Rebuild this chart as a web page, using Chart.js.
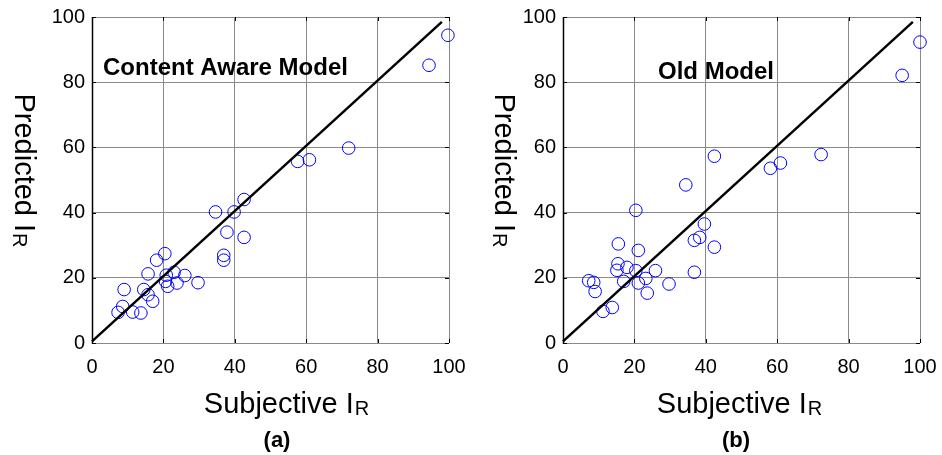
<!DOCTYPE html>
<html>
<head>
<meta charset="utf-8">
<script src="https://cdn.jsdelivr.net/npm/chart.js@4/dist/chart.umd.min.js"></script>
<style>
  html, body { margin:0; padding:0; background:#fff; }
  #wrap { position:relative; width:942px; height:455px; }
  canvas { position:absolute; top:0; }
</style>
</head>
<body>
<div id="wrap">
  <canvas id="ca" width="471" height="455" style="left:0"></canvas>
  <canvas id="cb" width="471" height="455" style="left:471px"></canvas>
</div>
<script>
// ---- data ----
const tickValues = [0, 20, 40, 60, 80, 100];

const subjectiveA = [99.7, 94.4, 71.9, 60.9, 57.6, 42.6, 34.6, 39.8, 37.8, 42.6,
                     36.9, 36.9, 20.4, 18.1, 15.7, 20.8, 23.0, 26.0, 20.6, 21.2,
                     23.8, 29.7, 14.5, 15.7, 17.0, 9.0, 8.6, 7.3, 11.4, 13.7];
const predictedA  = [94.4, 85.2, 59.8, 56.2, 55.7, 44.0, 40.2, 40.2, 34.0, 32.4,
                     26.9, 25.4, 27.4, 25.4, 21.2, 20.8, 21.7, 20.7, 18.9, 17.4,
                     18.4, 18.5, 16.4, 14.8, 12.8, 16.4, 11.2, 9.4, 9.5, 9.2];

const subjectiveB = [100.0, 95.0, 72.3, 60.9, 58.1, 42.4, 34.4, 39.6, 38.3, 36.8,
                     42.4, 36.8, 20.4, 15.5, 21.1, 15.4, 15.1, 17.9, 20.4, 25.9,
                     17.0, 21.1, 23.2, 23.6, 29.7, 7.2, 8.6, 9.0, 11.2, 13.8];
const predictedB  = [92.3, 82.1, 57.8, 55.2, 53.6, 57.3, 48.5, 36.5, 32.4, 31.5,
                     29.4, 21.7, 40.7, 30.4, 28.4, 24.3, 22.3, 23.2, 22.2, 22.2,
                     18.9, 18.4, 19.8, 15.3, 18.1, 19.1, 18.6, 15.8, 9.7, 10.9];

const refLineX = [0, 98];
const refLineY = [0.5, 98.5];

// ---- helpers ----
function toPoints(xs, ys) { return xs.map((x, i) => ({ x: x, y: ys[i] })); }

const FONT = 'Arial, "Liberation Sans", sans-serif';

function drawSubTitle(ctx, main, sub, size, subSize) {
  ctx.font = size + 'px ' + FONT;
  const w1 = ctx.measureText(main).width;
  ctx.font = subSize + 'px ' + FONT;
  const w2 = ctx.measureText(sub).width;
  const start = -(w1 + w2) / 2;
  ctx.textAlign = 'left';
  ctx.textBaseline = 'alphabetic';
  ctx.font = size + 'px ' + FONT;
  ctx.fillText(main, start, 0);
  ctx.font = subSize + 'px ' + FONT;
  ctx.fillText(sub, start + w1 + 1, 2);
}

const panelPlugin = {
  id: 'panel',
  beforeDatasetsDraw(chart) {
    const ctx = chart.ctx, a = chart.chartArea;
    const xs = chart.scales.x, ys = chart.scales.y;
    ctx.save();
    ctx.strokeStyle = '#000';
    ctx.lineWidth = 1;
    const tl = 4;
    ctx.beginPath();
    tickValues.forEach(v => {
      const px = Math.round(xs.getPixelForValue(v)) + 0.5;
      ctx.moveTo(px, a.bottom); ctx.lineTo(px, a.bottom - tl);
      ctx.moveTo(px, a.top); ctx.lineTo(px, a.top + tl);
      const py = Math.round(ys.getPixelForValue(v)) + 0.5;
      ctx.moveTo(a.left, py); ctx.lineTo(a.left + tl, py);
      ctx.moveTo(a.right, py); ctx.lineTo(a.right - tl, py);
    });
    ctx.stroke();
    ctx.lineWidth = 1.5;
    ctx.beginPath();
    ctx.moveTo(a.left + 0.5, a.top); ctx.lineTo(a.left + 0.5, a.bottom + 1);
    ctx.stroke();
    ctx.restore();
  },
  afterDraw(chart, args, o) {
    const ctx = chart.ctx;
    ctx.save();
    ctx.fillStyle = '#000';
    ctx.font = 'bold 24px ' + FONT;
    ctx.textAlign = 'left';
    ctx.textBaseline = 'alphabetic';
    ctx.fillText(o.label, o.labelX, o.labelY);
    ctx.save();
    ctx.translate(o.xTitleCx, 413);
    drawSubTitle(ctx, 'Subjective I', 'R', 29, 20);
    ctx.restore();
    ctx.save();
    ctx.translate(o.yTitleBase, 170);
    ctx.rotate(Math.PI / 2);
    drawSubTitle(ctx, 'Predicted I', 'R', 29, 20);
    ctx.restore();
    ctx.font = 'bold 22px ' + FONT;
    ctx.textAlign = 'center';
    ctx.textBaseline = 'alphabetic';
    ctx.fillText(o.caption, o.captionCx, 447);
    ctx.restore();
  }
};

function makeChart(id, xs, ys, opts) {
  const tickFont = { family: FONT, size: 20 };
  return new Chart(document.getElementById(id), {
    type: 'scatter',
    data: {
      datasets: [
        {
          data: toPoints(xs, ys),
          pointStyle: 'circle',
          pointRadius: 6.3,
          pointHoverRadius: 6.3,
          borderColor: '#0000ff',
          backgroundColor: 'rgba(0,0,0,0)',
          borderWidth: 1,
          clip: false,
          order: 2
        },
        {
          type: 'line',
          data: toPoints(refLineX, refLineY),
          borderColor: '#000',
          borderWidth: 2.5,
          pointRadius: 0,
          showLine: true,
          fill: false,
          clip: false,
          order: 1
        }
      ]
    },
    options: {
      responsive: false,
      animation: false,
      devicePixelRatio: 1,
      layout: { padding: { top: 17, right: 22, left: 0, bottom: 0 } },
      plugins: { legend: { display: false }, tooltip: { enabled: false }, panel: opts },
      events: [],
      scales: {
        x: {
          type: 'linear', min: 0, max: 100,
          afterFit(s) { s.height = 112; s.paddingLeft = 0; s.paddingRight = 0; },
          ticks: { stepSize: 20, color: '#000', font: tickFont, padding: 12, maxRotation: 0 },
          grid: { color: '#8a8a8a', lineWidth: 1, drawTicks: false },
          border: { display: false }
        },
        y: {
          type: 'linear', min: 0, max: 100,
          afterFit(s) { s.width = 92; s.paddingTop = 0; s.paddingBottom = 0; },
          ticks: { stepSize: 20, color: '#000', font: tickFont, padding: 7 },
          grid: { color: '#8a8a8a', lineWidth: 1, drawTicks: false },
          border: { display: false }
        }
      }
    },
    plugins: [panelPlugin]
  });
}

makeChart('ca', subjectiveA, predictedA, {
  label: 'Content Aware Model', labelX: 103, labelY: 75,
  xTitleCx: 286, yTitleBase: 15, caption: '(a)', captionCx: 277
});
makeChart('cb', subjectiveB, predictedB, {
  label: 'Old Model', labelX: 187, labelY: 79,
  xTitleCx: 268, yTitleBase: 24, caption: '(b)', captionCx: 265
});
</script>
</body>
</html>
